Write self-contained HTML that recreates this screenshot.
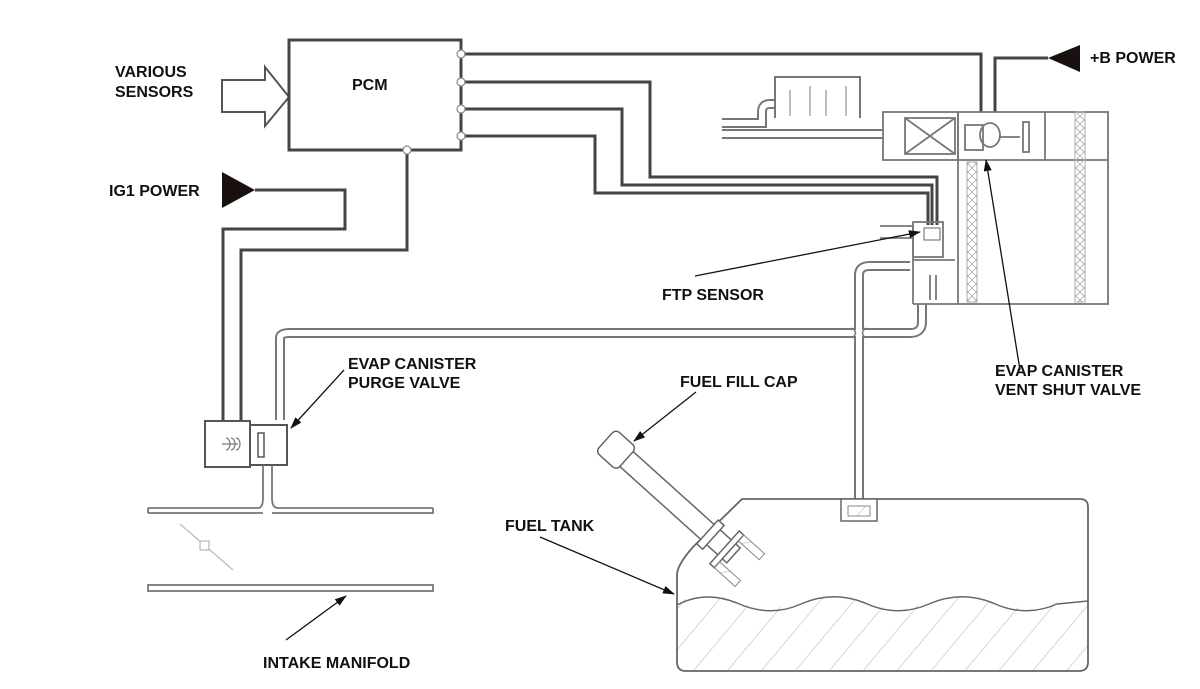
<!DOCTYPE html>
<html><head><meta charset="utf-8"><style>
html,body{margin:0;padding:0;background:#fff;}
svg{display:block}
text{font-family:"Liberation Sans",sans-serif;font-weight:bold;font-size:16px;fill:#111}
</style></head><body>
<svg width="1200" height="689" viewBox="0 0 1200 689" xmlns="http://www.w3.org/2000/svg">
<defs>
<marker id="ah" markerWidth="12" markerHeight="8" refX="11" refY="4" orient="auto" markerUnits="userSpaceOnUse"><path d="M0,0 L12,4 L0,8 Z" fill="#111"/></marker>
<pattern id="hatch" width="26" height="26" patternUnits="userSpaceOnUse" patternTransform="rotate(40)"><line x1="0" y1="0" x2="0" y2="26" stroke="#bbb" stroke-width="1.2"/></pattern>
<pattern id="dots" width="8" height="8" patternUnits="userSpaceOnUse"><path d="M0,4 L4,0 L8,4 L4,8 Z" fill="none" stroke="#aaa" stroke-width="0.8"/></pattern>
</defs>

<!-- labels -->
<text x="115" y="77">VARIOUS</text>
<text x="115" y="97">SENSORS</text>
<text x="109" y="196">IG1 POWER</text>
<text x="1090" y="63">+B POWER</text>
<text x="662" y="300">FTP SENSOR</text>
<text x="348" y="369">EVAP CANISTER</text>
<text x="348" y="388">PURGE VALVE</text>
<text x="680" y="387">FUEL FILL CAP</text>
<text x="995" y="376">EVAP CANISTER</text>
<text x="995" y="395">VENT SHUT VALVE</text>
<text x="505" y="531">FUEL TANK</text>
<text x="263" y="668">INTAKE MANIFOLD</text>

<!-- sensors arrow -->
<path d="M222,80 L265,80 L265,67 L289,97 L265,126 L265,112 L222,112 Z" fill="#fff" stroke="#555" stroke-width="2"/>

<!-- PCM -->
<rect x="289" y="40" width="172" height="110" fill="#fff" stroke="#444" stroke-width="3"/>
<text x="352" y="90">PCM</text>

<!-- wires -->
<g fill="none" stroke="#444" stroke-width="3">
<path d="M461,54 H981 V112"/>
<path d="M461,82 H650 V177 H937 V225"/>
<path d="M461,109 H622 V185 H932 V225"/>
<path d="M461,136 H595 V193 H928 V225"/>
<path d="M255,190 H345 V229 H223 V421"/>
<path d="M407,150 V250 H241 V421"/>
<path d="M1048,58 H995 V112"/>
</g>
<g fill="#fff" stroke="#888" stroke-width="1.2">
<circle cx="461" cy="54" r="4"/><circle cx="461" cy="82" r="4"/><circle cx="461" cy="109" r="4"/><circle cx="461" cy="136" r="4"/><circle cx="407" cy="150" r="4"/>
</g>
<path d="M222,172 L255,190 L222,208 Z" fill="#1a1010"/>
<path d="M1080,45 L1048,58 L1080,72 Z" fill="#1a1010"/>

<!-- pipes (double lines) -->
<g fill="none" stroke-linecap="butt">
<g stroke="#777" stroke-width="10">
<path d="M280,420 V338 Q280,333 290,333 H910 Q922,333 922,322 V304"/>
<path d="M859,500 V275 Q859,266 870,266 H910"/>
<path d="M722,134 H883"/>
<path d="M860,104 H770 Q762,104 762,112 V123 H722"/>
</g>
<g stroke="#fff" stroke-width="6">
<path d="M280,420 V338 Q280,333 290,333 H910 Q922,333 922,322 V304"/>
<path d="M859,500 V275 Q859,266 870,266 H910"/>
<path d="M722,134 H883"/>
<path d="M860,104 H770 Q762,104 762,112 V123 H722"/>
</g>
</g>
<path d="M852,328 Q859,333 852,338 M866,328 Q859,333 866,338" stroke="#777" stroke-width="1.5" fill="none"/>

<!-- reservoir -->
<path d="M775,118 V77 H860 V118" fill="#fff" stroke="#777" stroke-width="2"/>
<g stroke="#999" stroke-width="1.3"><line x1="790" y1="90" x2="790" y2="116"/><line x1="810" y1="86" x2="810" y2="116"/><line x1="826" y1="90" x2="826" y2="116"/><line x1="846" y1="86" x2="846" y2="116"/></g>

<!-- canister -->
<g fill="none" stroke="#777" stroke-width="1.8">
<rect x="958" y="112" width="150" height="192"/>
<line x1="958" y1="160" x2="1108" y2="160"/>
<rect x="883" y="112" width="75" height="48"/>
<rect x="905" y="118" width="50" height="36"/>
<line x1="905" y1="118" x2="955" y2="154"/><line x1="955" y1="118" x2="905" y2="154"/>
<rect x="965" y="125" width="18" height="25"/>
<ellipse cx="990" cy="135" rx="10" ry="12"/>
<line x1="1000" y1="137" x2="1020" y2="137"/>
<rect x="1023" y="122" width="6" height="30"/>
<line x1="1045" y1="112" x2="1045" y2="160"/>
<line x1="913" y1="225" x2="913" y2="304"/>
<line x1="913" y1="304" x2="958" y2="304"/>
<rect x="913" y="222" width="30" height="35"/>
<line x1="913" y1="260" x2="955" y2="260"/>
<line x1="930" y1="275" x2="930" y2="300"/>
<line x1="936" y1="275" x2="936" y2="300"/>
<line x1="880" y1="226" x2="913" y2="226"/>
<line x1="880" y1="238" x2="913" y2="238"/>
</g>
<rect x="967" y="162" width="10" height="140" fill="url(#dots)" stroke="#aaa"/>
<rect x="1075" y="112" width="10" height="190" fill="url(#dots)" stroke="#aaa"/>
<rect x="924" y="228" width="16" height="12" fill="#fff" stroke="#666"/>

<!-- purge valve -->
<rect x="205" y="421" width="45" height="46" fill="#fff" stroke="#555" stroke-width="2"/>
<rect x="250" y="425" width="37" height="40" fill="#fff" stroke="#555" stroke-width="2"/>
<rect x="258" y="433" width="6" height="24" fill="#fff" stroke="#555" stroke-width="1.5"/>
<path d="M222,444 H238 M226,438 a4,6 0 0 1 0,12 M231,438 a4,6 0 0 1 0,12 M236,438 a4,6 0 0 1 0,12" stroke="#777" fill="none" stroke-width="1.2"/>
<g fill="none" stroke="#777" stroke-width="1.8">
<path d="M148,508 H258 Q263,508 263,498 V465"/>
<path d="M148,513 H263 V513"/>
<path d="M272,465 V498 Q272,508 278,508 H433"/>
<path d="M272,513 H433 V508"/>
<line x1="148" y1="508" x2="148" y2="513"/>
<rect x="148" y="585" width="285" height="6"/>
</g>
<line x1="180" y1="524" x2="233" y2="570" stroke="#bbb" stroke-width="1.2"/>
<rect x="200" y="541" width="9" height="9" fill="#fff" stroke="#aaa"/>

<!-- fuel tank -->
<path d="M677,602 Q705,590 737,602 T801,602 T865,602 T929,602 T993,602 T1057,602 L1088,600 V662 Q1088,671 1079,671 H686 Q677,671 677,662 Z" fill="url(#hatch)"/>
<path d="M742,499 H1080 Q1088,499 1088,507 V662 Q1088,671 1079,671 H686 Q677,671 677,662 V575 Q677,565 693,547 Z" fill="none" stroke="#666" stroke-width="1.8"/>
<path d="M677,605 Q705,590 737,603 Q770,618 801,604 Q833,590 865,603 Q897,618 929,604 Q961,590 993,603 Q1025,618 1057,604 L1088,601" fill="none" stroke="#666" stroke-width="1.5"/>
<rect x="841" y="499" width="36" height="22" fill="#fff" stroke="#666" stroke-width="1.5"/>
<rect x="848" y="506" width="22" height="10" fill="url(#hatch)" stroke="#888"/>

<!-- filler neck -->
<g transform="translate(622,455) rotate(42)">
<rect x="0" y="-10" width="150" height="20" fill="#fff" stroke="#666" stroke-width="1.5"/>
<rect x="-22" y="-15" width="28" height="30" rx="5" fill="#fff" stroke="#666" stroke-width="1.5"/>
<rect x="115" y="-16" width="8" height="32" fill="#fff" stroke="#666" stroke-width="1.5"/>
<rect x="138" y="-22" width="6" height="44" fill="#fff" stroke="#666" stroke-width="1.5"/>
<rect x="144" y="-22" width="28" height="8" fill="url(#hatch)" stroke="#888"/>
<rect x="144" y="14" width="28" height="8" fill="url(#hatch)" stroke="#888"/>
</g>

<!-- leader arrows -->
<g stroke="#111" stroke-width="1.3" marker-end="url(#ah)">
<line x1="695" y1="276" x2="920" y2="232"/>
<line x1="1020" y1="370" x2="986" y2="160"/>
<line x1="344" y1="370" x2="291" y2="428"/>
<line x1="696" y1="392" x2="634" y2="441"/>
<line x1="540" y1="537" x2="674" y2="594"/>
<line x1="286" y1="640" x2="346" y2="596"/>
</g>
</svg>
</body></html>
